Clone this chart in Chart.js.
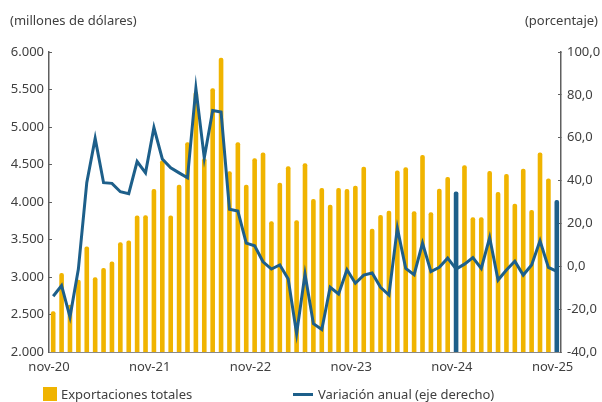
<!DOCTYPE html>
<html lang="es">
<head>
<meta charset="utf-8">
<script src="https://cdn.jsdelivr.net/npm/chart.js@4/dist/chart.umd.min.js"></script>
<style>
  body { margin: 0; background: #fff; }
  #wrap { position: relative; width: 602px; height: 402px; font-family: "Noto Sans", sans-serif; color: #404040; }
  canvas { position: absolute; left: 0; top: 0; }
  .unit { position: absolute; top: 11px; font-size: 13px; }
  #legend { position: absolute; top: 386px; left: 0; width: 602px; height: 16px; font-size: 13px; }
  .lg { position: absolute; top: 0; display: flex; align-items: center; height: 16px; }
  .sw { width: 14px; height: 14px; background: #f0b400; margin-right: 4px; }
  .ln { width: 20px; height: 3px; background: #1d5f8a; margin-right: 5px; }
</style>
</head>
<body>
<div id="wrap">
  <canvas id="chart" width="602" height="402"></canvas>
  <div class="unit" style="left:10px">(millones de dólares)</div>
  <div class="unit" style="right:4px">(porcentaje)</div>
  <div id="legend">
    <div class="lg" style="left:43px"><span class="sw"></span>Exportaciones totales</div>
    <div class="lg" style="left:293px"><span class="ln"></span>Variación anual (eje derecho)</div>
  </div>
</div>
<script>
// meses nov-20 .. nov-25 (61 meses)
const MESES = ['ene','feb','mar','abr','may','jun','jul','ago','sep','oct','nov','dic'];
const categorias = [];
for (let i = 0; i < 61; i++) {
    const m = (10 + i) % 12;
    const a = 20 + Math.floor((10 + i) / 12);
    categorias.push(MESES[m] + '-' + a);
}

// Exportaciones totales (millones de dólares)
const exportaciones = [
    2545, 3053, 2630, 2965, 3407, 2996, 3120, 3208, 3465, 3487, 3819, 3823,
    4173, 4558, 3819, 4230, 4797, 5470, 4585, 5518, 5925, 4410, 4797, 4230,
    4585, 4659, 3745, 4257, 4478, 3757, 4518, 4040, 4186, 3965, 4186, 4173,
    4217, 4469, 3642, 3828, 3885, 4420, 4465, 3876, 4628, 3863, 4177, 4332,
    4140, 4491, 3797, 3797, 4412, 4133, 4372, 3978, 4443, 3894, 4659, 4314,
    4027
];

// Variación anual (%) - eje derecho
const variacion = [
    -14.0, -9.0, -23.7, -1.3, 39.0, 59.7, 39.0, 38.7, 34.8, 33.9, 48.9, 43.6,
    64.7, 50.1, 46.0, 43.6, 41.3, 83.1, 50.6, 72.7, 72.0, 26.6, 25.8, 10.8,
    9.6, 2.1, -1.3, 0.6, -5.9, -31.5, -3.6, -26.8, -29.5, -9.8, -12.9, -1.6,
    -7.9, -4.1, -3.1, -9.8, -13.4, 17.8, -1.0, -3.9, 10.8, -2.5, -0.5, 3.8,
    -1.3, 1.0, 4.1, -1.0, 13.4, -6.4, -1.7, 2.4, -4.1, 0.6, 11.9, -0.5,
    -2.4
];

// meses resaltados en azul
const resaltados = ['nov-24', 'nov-25'];

const AMARILLO = '#f0b400';
const AZUL = '#1d5f8a';
const TEXTO = '#404040';
const EJE = '#5f5f5f';

const colorBarras = categorias.map(c => resaltados.includes(c) ? AZUL : AMARILLO);

function fmtMiles(v) {
    return String(v).replace(/\B(?=(\d{3})+(?!\d))/g, '.');
}
function fmtPct(v) {
    return v.toFixed(1).replace('.', ',');
}

const font = { family: 'Noto Sans', size: 13 };

new Chart(document.getElementById('chart'), {
    type: 'bar',
    data: {
        labels: categorias,
        datasets: [
            {
                type: 'line', label: 'Variación anual (eje derecho)', data: variacion,
                yAxisID: 'y1', borderColor: AZUL, borderWidth: 3, pointRadius: 0,
                tension: 0, order: 0
            },
            {
                label: 'Exportaciones totales', data: exportaciones, yAxisID: 'y',
                backgroundColor: colorBarras, barPercentage: 0.55, categoryPercentage: 1,
                borderRadius: { topLeft: 2, topRight: 2 }, borderSkipped: 'bottom', order: 1
            }
        ]
    },
    options: {
        responsive: false,
        animation: false,
        layout: { padding: { top: 52, bottom: 20, left: 0, right: 0 } },
        plugins: { legend: { display: false }, tooltip: { enabled: false } },
        scales: {
            x: {
                border: { color: '#8a8a8a', width: 1 },
                grid: {
                    drawOnChartArea: false, tickLength: -3,
                    color: ctx => (ctx.index % 12 === 0 ? '#333' : 'transparent')
                },
                ticks: {
                    autoSkip: false, maxRotation: 0, minRotation: 0, padding: 10,
                    labelOffset: -4.2, color: TEXTO, font: font,
                    callback: (v, i) => (i % 12 === 0 ? categorias[i] : null)
                },
                afterFit: s => { s.height = 30; }
            },
            y: {
                position: 'left', min: 2000, max: 6000,
                border: { color: EJE, width: 1.5 },
                grid: { drawOnChartArea: false, tickLength: -3, color: EJE },
                ticks: { stepSize: 500, padding: 8, color: TEXTO, font: font, callback: v => fmtMiles(v) },
                afterFit: s => { s.width = 49; }
            },
            y1: {
                position: 'right', min: -40, max: 100,
                border: { color: EJE, width: 1.5 },
                grid: { drawOnChartArea: false, tickLength: -3, color: EJE },
                ticks: { stepSize: 20, padding: 9, color: TEXTO, font: font, callback: v => fmtPct(v) },
                afterFit: s => { s.width = 41; }
            }
        }
    }
});
</script>
</body>
</html>
